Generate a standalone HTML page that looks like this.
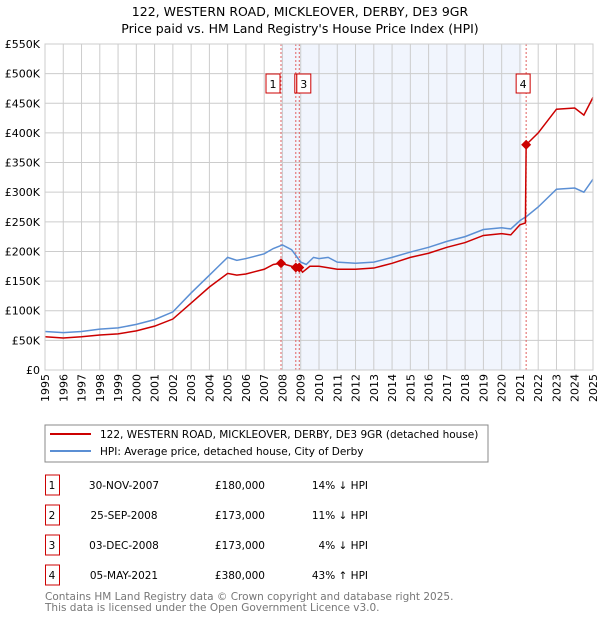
<!DOCTYPE html>
<html><head><meta charset="utf-8"><style>
body{margin:0;background:#fff;font-family:"DejaVu Sans","Liberation Sans",sans-serif;}
svg text{font-family:"DejaVu Sans","Liberation Sans",sans-serif;}
</style></head><body>
<svg id="c" width="600" height="620" xmlns="http://www.w3.org/2000/svg">
<text x="300" y="16" font-size="12.5" text-anchor="middle">122, WESTERN ROAD, MICKLEOVER, DERBY, DE3 9GR</text>
<text x="300" y="33" font-size="12.5" text-anchor="middle">Price paid vs. HM Land Registry's House Price Index (HPI)</text>
<g id="plot"></g>
<rect x="45" y="425" width="443" height="37" fill="none" stroke="#888"/>
<line x1="50" y1="434" x2="91" y2="434" stroke="#cc0000" stroke-width="2"/>
<text x="100" y="438" font-size="10.5">122, WESTERN ROAD, MICKLEOVER, DERBY, DE3 9GR (detached house)</text>
<line x1="50" y1="451" x2="91" y2="451" stroke="#5b8fd4" stroke-width="2"/>
<text x="100" y="455" font-size="10.5">HPI: Average price, detached house, City of Derby</text>
<g id="tbl" font-size="10.5"></g>
<text x="45" y="600" font-size="10.5" fill="#777">Contains HM Land Registry data © Crown copyright and database right 2025.</text>
<text x="45" y="611" font-size="10.5" fill="#777">This data is licensed under the Open Government Licence v3.0.</text>
</svg>
<script>
const hpiYears=[1995,1996,1997,1998,1999,2000,2001,2002,2003,2004,2004.5,2005,2005.5,2006,2007,2007.5,2008,2008.5,2009,2009.3,2009.7,2010,2010.5,2011,2012,2013,2014,2015,2016,2017,2018,2019,2020,2020.5,2021,2021.4,2022,2023,2024,2024.5,2025];
const hpiValues=[65,63,65,69,71,77,85,98,130,160,175,190,185,188,196,205,211,203,182,178,190,188,190,182,180,182,190,199,207,217,225,237,240,238,252,260,275,305,307,300,322];
const priceYears=[1995,1996,1997,1998,1999,2000,2001,2002,2003,2004,2005,2005.5,2006,2007,2007.5,2007.92,2008.5,2008.73,2008.92,2009.1,2009.5,2010,2011,2012,2013,2014,2015,2016,2017,2018,2019,2020,2020.5,2021,2021.3,2021.34,2022,2022.5,2023,2024,2024.5,2025];
const priceValues=[56,54,56,59,61,66,74,86,113,140,163,160,162,170,178,180,175,173,173,165,175,175,170,170,172,180,190,197,207,215,227,230,228,245,248,380,400,420,440,442,430,460];
const saleYears=[2007.92,2008.73,2008.92,2021.34];
const saleValues=[180,173,173,380];
const saleLabels=["1","2","3","4"];
const saleDates=["30-NOV-2007","25-SEP-2008","03-DEC-2008","05-MAY-2021"];
const salePrices=["£180,000","£173,000","£173,000","£380,000"];
const saleDiffs=["14% ↓ HPI","11% ↓ HPI","4% ↓ HPI","43% ↑ HPI"];
const yTicks=[0,50,100,150,200,250,300,350,400,450,500,550];
const xTicks=[];for(let y=1995;y<=2025;y++)xTicks.push(y);
const X0=45,X1=593,Y0=370,Y1=44;
const xs=y=>X0+(y-1995)/30*(X1-X0);
const ys=v=>Y0-v/550*(Y0-Y1);
const NS="http://www.w3.org/2000/svg";
const g=document.getElementById('plot');
function mk(t,a,p){const e=document.createElementNS(NS,t);for(const k in a)e.setAttribute(k,a[k]);(p||g).appendChild(e);return e;}
const bg=mk('rect',{x:X0,y:Y1,width:X1-X0,height:Y0-Y1,fill:'#fff'});


const sh=mk('rect',{x:xs(saleYears[0]),y:Y1,width:xs(2021.1)-xs(saleYears[0]),height:Y0-Y1,fill:'#eef3fc',opacity:0.8});


yTicks.forEach(v=>{
 const l=mk('line',{x1:X0,x2:X1,y1:ys(v),y2:ys(v),stroke:'#ccc'});
 
 
 const t=mk('text',{x:40,y:ys(v)+4,'font-size':11,'text-anchor':'end'});
 t.textContent=v===0?'£0':'£'+v+'K';
 
 
});
xTicks.forEach(y=>{
 const l=mk('line',{x1:xs(y),x2:xs(y),y1:Y1,y2:Y0,stroke:'#ccc'});
 
 
 const t=mk('text',{x:0,y:0,'font-size':11,'text-anchor':'end',transform:`translate(${xs(y)+4},374) rotate(-90)`});
 t.textContent=y;
 
 
});
saleYears.forEach((y,i)=>{
 const l=mk('line',{x1:xs(y),x2:xs(y),y1:Y1,y2:Y0,stroke:'#e06060','stroke-dasharray':'2,2'});
 
 
});
const hp=mk('polyline',{points:hpiYears.map((y,i)=>xs(y)+','+ys(hpiValues[i])).join(' '),fill:'none',stroke:'#5b8fd4','stroke-width':1.5});


const pp=mk('polyline',{points:priceYears.map((y,i)=>xs(y)+','+ys(priceValues[i])).join(' '),fill:'none',stroke:'#cc0000','stroke-width':1.5});


saleYears.forEach((y,i)=>{
 const cx=xs(y),cy=ys(saleValues[i]);
 const d=mk('polygon',{points:`${cx},${cy-5} ${cx+5},${cy} ${cx},${cy+5} ${cx-5},${cy}`,fill:'#cc0000'});
 
 
});
saleLabels.forEach((s,i)=>{
 if(s==="2"){const r=mk('rect',{x:xs(saleYears[1])-1,y:74,width:2,height:19,fill:'#fff',stroke:'#cc0000'});return;}
 const w=14,x=s==="1"?xs(saleYears[0])-w-1:s==="3"?xs(saleYears[1])+1:xs(saleYears[3])-w/2-3;
 const r=mk('rect',{x:x,y:74,width:w,height:19,fill:'#fff',stroke:'#cc0000'});
 
 
 const t=mk('text',{x:x+w/2,y:88,'font-size':11,'text-anchor':'middle'});
 t.textContent=s;
 
 
});
const ax=mk('rect',{x:X0,y:Y1,width:X1-X0,height:Y0-Y1,fill:'none',stroke:'#ccc'});


const tb=document.getElementById('tbl');
saleLabels.forEach((s,i)=>{
 const y=475+i*30;
 const r=mk('rect',{x:45.5,y:y,width:14,height:20,fill:'none',stroke:'#cc0000'},tb);
 
 
 const cells=[[52,s,'middle'],[158,saleDates[i],'end'],[265,salePrices[i],'end'],[368,saleDiffs[i],'end']];
 cells.forEach((c,j)=>{
  const t=mk('text',{x:j==1?124:c[0],y:y+14,'text-anchor':j==1?'middle':c[2]},tb);
  t.textContent=c[1];
  
  
 });
});
</script>
</body></html>
